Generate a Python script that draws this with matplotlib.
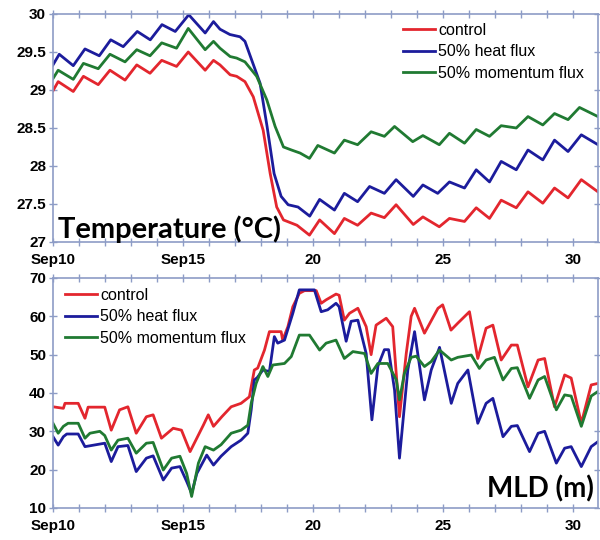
import matplotlib
matplotlib.use('Agg')
from matplotlib import pyplot as plt

#   colours
RED = '#e3262e'
BLUE = '#1c1c9c'
GREEN = '#207a32'
FRAME = '#8d9cc6'

#   days since Sep 10
XTICKS = list(range(0, 21))
XLABELS = {0: 'Sep10', 5: 'Sep15', 10: '20', 15: '25', 20: '30'}
NAMES = ['control', '50% heat flux', '50% momentum flux']

########################
#   temperature (deg C)
t_ctrl = [0, 0.2, 0.78, 1.17, 1.74, 2.19, 2.77, 3.22, 3.73, 4.18, 4.75, 5.2, 5.85, 6.17,
          6.42, 6.81, 7.06, 7.38, 7.7, 8.08, 8.35, 8.6, 8.86, 9.38, 9.86, 10.25, 10.82,
          11.2, 11.71, 12.23, 12.74, 13.19, 13.85, 14.22, 14.85, 15.24, 15.82, 16.27,
          16.78, 17.23, 17.81, 18.26, 18.83, 19.28, 19.8, 20.31, 20.95]
T_ctrl = [28.99, 29.11, 28.98, 29.18, 29.07, 29.26, 29.13, 29.33, 29.22, 29.39, 29.31, 29.5,
          29.26, 29.39, 29.33, 29.2, 29.18, 29.11, 28.91, 28.47, 27.9, 27.46, 27.29, 27.22,
          27.09, 27.29, 27.11, 27.31, 27.22, 27.38, 27.32, 27.49, 27.23, 27.33, 27.2,
          27.31, 27.27, 27.45, 27.31, 27.55, 27.45, 27.66, 27.51, 27.71, 27.58, 27.82, 27.66]

t_heat = [0, 0.24, 0.78, 1.23, 1.78, 2.22, 2.7, 3.24, 3.74, 4.19, 4.7, 5.22, 5.85, 6.17,
          6.42, 6.8, 7.19, 7.38, 7.96, 8.23, 8.5, 8.77, 9.04, 9.42, 9.87, 10.25, 10.82,
          11.2, 11.71, 12.17, 12.74, 13.19, 13.85, 14.22, 14.79, 15.24, 15.82, 16.27,
          16.78, 17.23, 17.81, 18.26, 18.83, 19.28, 19.8, 20.31, 20.95]
T_heat = [29.33, 29.47, 29.32, 29.54, 29.45, 29.66, 29.57, 29.77, 29.66, 29.86, 29.77, 29.99,
          29.75, 29.9, 29.8, 29.73, 29.7, 29.64, 29.09, 28.52, 27.9, 27.6, 27.49, 27.46,
          27.34, 27.56, 27.42, 27.64, 27.53, 27.73, 27.64, 27.82, 27.6, 27.75, 27.64,
          27.79, 27.71, 27.95, 27.79, 28.06, 27.95, 28.21, 28.08, 28.34, 28.19, 28.41, 28.28]

t_mom = [0, 0.2, 0.78, 1.17, 1.74, 2.19, 2.77, 3.22, 3.73, 4.18, 4.75, 5.2, 5.85, 6.17,
         6.42, 6.81, 7.06, 7.38, 7.83, 8.22, 8.54, 8.86, 9.17, 9.5, 9.86, 10.18, 10.82,
         11.2, 11.71, 12.23, 12.74, 13.13, 13.83, 14.22, 14.85, 15.24, 15.82, 16.27,
         16.78, 17.23, 17.81, 18.26, 18.83, 19.28, 19.8, 20.24, 20.95]
T_mom = [29.15, 29.26, 29.14, 29.35, 29.28, 29.47, 29.37, 29.53, 29.45, 29.62, 29.55, 29.81,
         29.53, 29.64, 29.55, 29.44, 29.42, 29.37, 29.18, 28.87, 28.52, 28.25, 28.21, 28.17,
         28.1, 28.27, 28.17, 28.34, 28.28, 28.45, 28.39, 28.52, 28.32, 28.4, 28.28,
         28.43, 28.3, 28.48, 28.39, 28.53, 28.5, 28.65, 28.54, 28.69, 28.61, 28.77, 28.65]

########################
#   mixed layer depth (m)
m_ctrl = [0, 0.4, 0.46, 0.97, 1.23, 1.35, 1.99, 2.24, 2.56, 2.88, 3.2, 3.59, 3.85, 4.17,
          4.62, 4.94, 5.27, 5.78, 5.97, 6.17, 6.49, 6.85, 7.23, 7.55, 7.74, 7.87, 8.13,
          8.32, 8.77, 8.83, 9.03, 9.22, 9.47, 9.67, 10.12, 10.31, 10.5, 10.88, 11.0, 11.2,
          11.4, 11.72, 12.04, 12.23, 12.42, 12.81, 13.06, 13.32, 13.58, 13.77, 13.9, 14.28,
          14.8, 14.98, 15.3, 15.56, 16.01, 16.33, 16.65, 16.91, 17.23, 17.62, 17.85, 18.26,
          18.65, 18.9, 19.28, 19.67, 19.92, 20.31, 20.69, 20.95]
D_ctrl = [36.4, 36.0, 37.3, 37.3, 33.4, 36.3, 36.3, 30.3, 35.6, 36.4, 29.5, 33.8, 34.3, 28.2,
          30.8, 30.3, 24.7, 31.6, 34.3, 31.3, 33.8, 36.4, 37.3, 39, 46, 46.5, 51.2,
          56, 56, 53.8, 57.3, 62.5, 66, 66.7, 66.7, 63.4, 64.3, 65.8, 65.5, 59,
          60.8, 62.1, 57.3, 50, 57.7, 59.5, 57.3, 33.8, 50.3, 60, 62.1, 55.6,
          62.1, 63, 56.4, 58.2, 61.2, 49, 56.9, 57.7, 48.6, 52.5, 52.5, 41.6,
          48.6, 49, 36.4, 44.7, 43.9, 32.1, 42.1, 42.5]

m_heat = [0, 0.2, 0.4, 0.53, 0.97, 1.23, 1.99, 2.24, 2.5, 2.88, 3.2, 3.59, 3.85, 4.24,
          4.56, 4.88, 5.14, 5.33, 5.53, 5.91, 6.17, 6.46, 6.85, 7.23, 7.49, 7.62, 7.74,
          7.85, 8.07, 8.32, 8.51, 8.64, 8.9, 9.22, 9.47, 10.05, 10.31, 10.56, 10.88, 11.0,
          11.27, 11.46, 11.72, 12.04, 12.26, 12.49, 12.74, 12.9, 13.13, 13.32, 13.64, 13.9,
          14.28, 14.54, 14.86, 15.31, 15.56, 15.95, 16.33, 16.65, 16.91, 17.3, 17.62, 17.85,
          18.32, 18.65, 18.9, 19.35, 19.67, 19.92, 20.31, 20.69, 20.95]
D_heat = [28.6, 26.4, 28.6, 29.3, 29.3, 26, 26.9, 22.1, 26, 26.3, 19.5, 23, 23.6, 17.3,
          20.4, 20.8, 16.9, 13.8, 19, 23.8, 21.2, 23.5, 26, 27.7, 29.5, 35.6, 43.4,
          44, 46, 45.6, 54.7, 53, 53.8, 60.8, 66.9, 66.9, 61.2, 61.7, 63.4, 62.5,
          53.5, 58.7, 59, 50.3, 33, 47, 51.3, 51.3, 40.8, 23, 46, 56,
          38.2, 46, 51.9, 37.3, 42.5, 46, 32.1, 37.3, 38.6, 28.6, 31.3, 31.5,
          24.7, 29.5, 30, 21.7, 25.6, 26, 20.8, 26, 27.3]

m_mom = [0, 0.2, 0.4, 0.58, 0.97, 1.23, 1.42, 1.8, 1.99, 2.24, 2.5, 2.88, 3.2, 3.59, 3.85,
         4.24, 4.56, 4.88, 5.14, 5.33, 5.59, 5.85, 6.17, 6.46, 6.85, 7.23, 7.49, 7.62,
         7.81, 8.07, 8.26, 8.45, 8.9, 9.16, 9.47, 9.86, 10.25, 10.5, 10.88, 11.2, 11.53,
         11.98, 12.23, 12.49, 12.87, 13.2, 13.32, 13.51, 13.77, 13.96, 14.28, 14.54, 14.86,
         15.31, 15.56, 16.08, 16.39, 16.65, 16.97, 17.3, 17.62, 17.85, 18.32, 18.65, 18.9,
         19.35, 19.67, 19.92, 20.31, 20.69, 20.95]
D_mom = [32.1, 29.5, 31.3, 32.1, 32.1, 28.2, 29.5, 30.0, 28.9, 25.1, 27.7, 28.2, 24.3, 26.9, 27.1,
         19.9, 23, 23.5, 19, 13, 21.7, 26, 25.1, 26.5, 29.5, 30.3, 31.6, 37.3,
         42.5, 46.9, 44.3, 47.3, 47.7, 49.5, 55.1, 55.1, 51.2, 53, 53.8, 49, 50.8,
         50.3, 45.1, 47.7, 47.7, 43.4, 38.2, 45.1, 49.3, 49.6, 46.9, 48.2, 51.2,
         48.6, 49.3, 49.9, 46.4, 48.6, 49.3, 43.4, 46.4, 46.6, 38.6, 43.4, 44.3,
         35.6, 39.5, 39.2, 31.3, 39.2, 40.4]


def style_axes(ax, ylim, yticks):
    ax.set_xlim(0, 20.95)
    ax.set_ylim(*ylim)
    ax.set_xticks(XTICKS)
    ax.set_xticklabels([XLABELS.get(d, '') for d in XTICKS])
    ax.set_yticks(yticks)
    ax.set_yticklabels(['%g' % v for v in yticks])
    for s in ax.spines.values():
        s.set_color(FRAME)
        s.set_linewidth(1.2)
    ax.tick_params(which='both', direction='inout', length=6, width=1, color=FRAME,
                   top=True, right=True, labelsize=11)
    ax.tick_params(axis='x', pad=5)
    ax.tick_params(axis='y', pad=2)
    for lab in ax.get_xticklabels() + ax.get_yticklabels():
        lab.set_fontfamily('Liberation Sans')
        lab.set_fontweight('bold')


def main():

    fig = plt.figure(figsize=(6.0, 5.4), dpi=100)
    leg_font = {'family': 'Liberation Sans', 'size': 11.5}

    #   temperature panel
    ax1 = fig.add_axes([0.0883, 0.5519, 0.9083, 0.4222])
    ax1.plot(t_ctrl, T_ctrl, color=RED, lw=2.0, label=NAMES[0])
    ax1.plot(t_heat, T_heat, color=BLUE, lw=2.0, label=NAMES[1])
    ax1.plot(t_mom, T_mom, color=GREEN, lw=2.0, label=NAMES[2])
    style_axes(ax1, (27, 30), [27, 27.5, 28, 28.5, 29, 29.5, 30])
    ax1.legend(loc='upper left', bbox_to_anchor=(403 / 600, 1 - 23 / 540),
               bbox_transform=fig.transFigure, frameon=False, borderpad=0,
               borderaxespad=0, handlelength=2.0, handletextpad=0.2,
               labelspacing=0.4, prop=leg_font)
    fig.text(58 / 600, 1 - 238 / 540, 'Temperature (\u00b0C)', fontsize=21,
             fontweight='bold', family='Lato', va='baseline', ha='left')

    #   MLD panel
    ax2 = fig.add_axes([0.0883, 0.0593, 0.9083, 0.4259])
    ax2.plot(m_ctrl, D_ctrl, color=RED, lw=2.0, label=NAMES[0])
    ax2.plot(m_heat, D_heat, color=BLUE, lw=2.0, label=NAMES[1])
    ax2.plot(m_mom, D_mom, color=GREEN, lw=2.0, label=NAMES[2])
    style_axes(ax2, (10, 70), [10, 20, 30, 40, 50, 60, 70])
    ax2.legend(loc='upper left', bbox_to_anchor=(65 / 600, 1 - 288 / 540),
               bbox_transform=fig.transFigure, frameon=False, borderpad=0,
               borderaxespad=0, handlelength=2.0, handletextpad=0.2,
               labelspacing=0.4, prop=leg_font)
    fig.text(594 / 600, 1 - 497 / 540, 'MLD (m)', fontsize=20,
             fontweight='bold', family='Lato', va='baseline', ha='right')

    fig.savefig('out.png', dpi=100)

    return


if __name__ == '__main__':
    main()
